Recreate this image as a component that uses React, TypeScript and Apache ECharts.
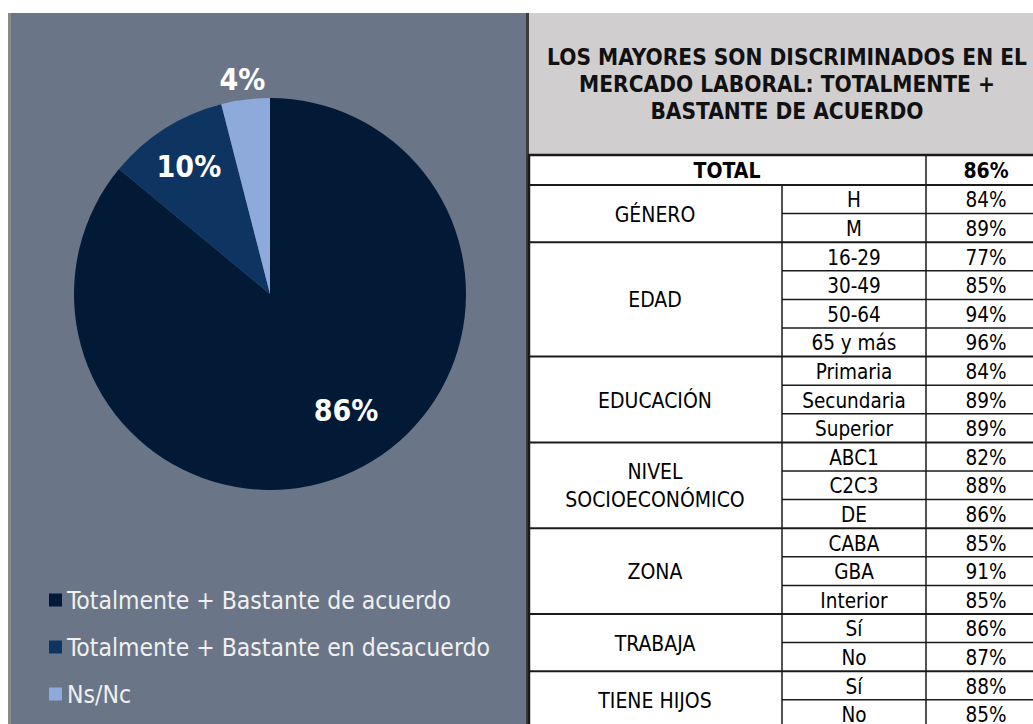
import React, { useEffect, useRef } from "react";
import * as echarts from "echarts";

const pieCategories = [
  "Totalmente + Bastante de acuerdo",
  "Totalmente + Bastante en desacuerdo",
  "Ns/Nc",
];
const pieValues = [86, 10, 4];
const pieColors = ["#021a36", "#0e3562", "#8eaadb"];

const titleLines = [
  "LOS MAYORES SON DISCRIMINADOS EN EL",
  "MERCADO LABORAL: TOTALMENTE +",
  "BASTANTE DE ACUERDO",
];
const totalLabel = "TOTAL";
const totalValue = 86;
const groupNames = [
  "GÉNERO",
  "EDAD",
  "EDUCACIÓN",
  "NIVEL\nSOCIOECONÓMICO",
  "ZONA",
  "TRABAJA",
  "TIENE HIJOS",
];
const subCategories = [
  ["H", "M"],
  ["16-29", "30-49", "50-64", "65 y más"],
  ["Primaria", "Secundaria", "Superior"],
  ["ABC1", "C2C3", "DE"],
  ["CABA", "GBA", "Interior"],
  ["Sí", "No"],
  ["Sí", "No"],
];
const subValues = [
  [84, 89],
  [77, 85, 94, 96],
  [84, 89, 89],
  [82, 88, 86],
  [85, 91, 85],
  [86, 87],
  [88, 85],
];

const FONT = '"DejaVu Sans Condensed", "DejaVu Sans", sans-serif';

function txt(text: string, x: number, y: number, size: number, bold: boolean, fill = "#000") {
  return {
    type: "text",
    silent: true,
    style: {
      text,
      x,
      y,
      fill,
      fontSize: size,
      fontWeight: bold ? "bold" : "normal",
      fontFamily: FONT,
      align: "center",
      verticalAlign: "middle",
      textAlign: "center",
      textVerticalAlign: "middle",
      lineHeight: 28,
    },
  };
}

function hline(x1: number, x2: number, y: number, w: number) {
  return {
    type: "line",
    silent: true,
    shape: { x1, y1: y, x2, y2: y },
    style: { stroke: "#1a1a1a", lineWidth: w },
  };
}
function vline(x: number, y1: number, y2: number, w: number) {
  return {
    type: "line",
    silent: true,
    shape: { x1: x, y1, x2: x, y2 },
    style: { stroke: "#1a1a1a", lineWidth: w },
  };
}

function buildGraphics() {
  const els: any[] = [];
  // left panel
  els.push({ type: "rect", silent: true, z: -10, shape: { x: 8, y: 13, width: 3, height: 711 }, style: { fill: "#8a8a8a" } });
  els.push({ type: "rect", silent: true, z: -10, shape: { x: 11, y: 13, width: 515, height: 711 }, style: { fill: "#6a7687" } });
  els.push({ type: "rect", silent: true, z: -10, shape: { x: 526, y: 13, width: 3, height: 711 }, style: { fill: "#3c3c3c" } });
  // title area
  els.push({ type: "rect", silent: true, z: -10, shape: { x: 529, y: 13, width: 520, height: 141 }, style: { fill: "#d0cecf" } });
  els.push({ type: "rect", silent: true, z: -10, shape: { x: 529, y: 154, width: 520, height: 580 }, style: { fill: "#ffffff" } });

  const left = 528, c1 = 782, c2 = 926, right = 1046;
  const titleCx = 787;
  titleLines.forEach((t, i) => els.push(txt(t, titleCx, 57 + i * 27, 22.5, true, "#111")));

  const headerY = 155, totalBottom = 185, rowH = 28.6;
  els.push(txt(totalLabel, (left + c2) / 2, (headerY + totalBottom) / 2 + 1, 21, true));
  els.push(txt(totalValue + "%", (c2 + right) / 2, (headerY + totalBottom) / 2 + 1, 21, true));

  els.push(hline(left, right, headerY, 2.5));
  els.push(hline(left, right, totalBottom, 2));

  let row = 0;
  groupNames.forEach((g, gi) => {
    const subs = subCategories[gi];
    const gTop = totalBottom + row * rowH;
    const gBottom = gTop + subs.length * rowH;
    els.push(txt(g, (left + c1) / 2, (gTop + gBottom) / 2 + 1, 21, false));
    subs.forEach((s, si) => {
      const y0 = gTop + si * rowH;
      els.push(txt(s, (c1 + c2) / 2, y0 + rowH / 2 + 1, 20.5, false));
      els.push(txt(subValues[gi][si] + "%", (c2 + right) / 2, y0 + rowH / 2 + 1, 20.5, false));
      if (si > 0) els.push(hline(c1, right, y0, 1.5));
    });
    if (gi > 0) els.push(hline(left, right, gTop, 2));
    row += subs.length;
  });

  els.push(vline(left + 1, headerY, 724, 2.5));
  els.push(vline(c1, totalBottom, 724, 1.5));
  els.push(vline(c2, headerY, 724, 1.5));
  return els;
}

export default function App() {
  const ref = useRef<HTMLDivElement>(null);
  useEffect(() => {
    if (!ref.current) return;
    const chart = echarts.init(ref.current, undefined, { renderer: "svg" });
    const labelOffsets = [
      [33, 25],
      [-27, -42],
      [-15, -114],
    ];
    chart.setOption({
      animation: false,
      backgroundColor: "#ffffff",
      graphic: { elements: buildGraphics() },
      legend: {
        orient: "vertical",
        left: 49,
        top: 587,
        padding: 0,
        icon: "rect",
        itemWidth: 13,
        itemHeight: 13,
        itemGap: 21,
        selectedMode: false,
        data: pieCategories,
        textStyle: {
          color: "#f0f0f0",
          fontSize: 24.5,
          fontFamily: FONT,
          lineHeight: 26,
        },
      },
      series: [
        {
          type: "pie",
          center: [270, 294],
          radius: 196,
          startAngle: 90,
          clockwise: true,
          silent: true,
          itemStyle: { borderWidth: 0 },
          labelLine: { show: false },
          label: {
            show: true,
            position: "inside",
            formatter: "{c}%",
            color: "#ffffff",
            fontSize: 30,
            fontWeight: "bold",
            fontFamily: FONT,
          },
          data: pieValues.map((v, i) => ({
            name: pieCategories[i],
            value: v,
            itemStyle: { color: pieColors[i] },
            label: { offset: labelOffsets[i] },
          })),
        },
      ],
    });
    return () => chart.dispose();
  }, []);
  return (
    <div
      ref={ref}
      style={{ position: "absolute", left: 0, top: 0, width: 1033, height: 724 }}
    />
  );
}
